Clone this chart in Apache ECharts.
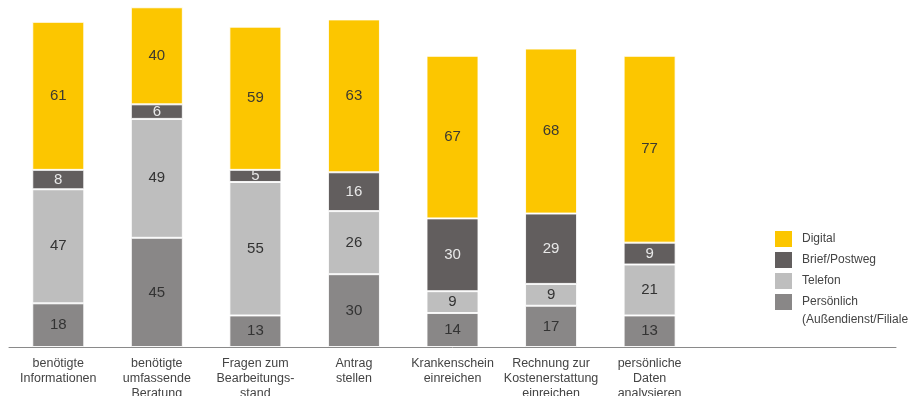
<!DOCTYPE html>
<html>
<head>
<meta charset="utf-8">
<script src="https://cdn.jsdelivr.net/npm/echarts@6/dist/echarts.min.js"></script>
<style>
  html, body { margin: 0; padding: 0; background: #fff; overflow: hidden; }
  #chart { width: 908px; height: 396px; }
</style>
</head>
<body>
<div id="chart"></div>
<script>
// Anliegen und genutzte Kontaktwege (Anzahl Nennungen)
const categories = [
  'benötigte\nInformationen',
  'benötigte\numfassende\nBeratung',
  'Fragen zum\nBearbeitungs-\nstand',
  'Antrag\nstellen',
  'Krankenschein\neinreichen',
  'Rechnung zur\nKostenerstattung\neinreichen',
  'persönliche\nDaten\nanalysieren',
  '', ''
];

const persoenlich = [18, 45, 13, 30, 14, 17, 13];
const telefon     = [47, 49, 55, 26, 9, 9, 21];
const brief       = [8, 6, 5, 16, 30, 29, 9];
const digital     = [61, 40, 59, 63, 67, 68, 77];

const seriesNames = ['Digital', 'Brief/Postweg', 'Telefon', 'Persönlich (Außendienst/Filiale)'];

const colors = {
  digital: '#FCC600',
  brief: '#625E5E',
  telefon: '#BEBEBE',
  persoenlich: '#898787'
};

const font = '"Liberation Sans", "Helvetica Neue", Arial, sans-serif';
const textGray = '#444';

function stackSeries(name, data, color, labelColor) {
  return {
    name: name,
    type: 'bar',
    stack: 'kontakt',
    barWidth: 52,
    data: data,
    itemStyle: { color: color, borderColor: 'rgba(255,255,255,0.85)', borderWidth: 1 },
    label: {
      show: true,
      position: 'inside',
      color: labelColor,
      fontFamily: font,
      fontSize: 15
    }
  };
}

const chart = echarts.init(document.getElementById('chart'), null, { renderer: 'canvas' });

chart.setOption({
  animation: false,
  backgroundColor: '#fff',
  grid: { left: 9, right: 12, top: 0, bottom: 49, containLabel: false, outerBoundsMode: 'none' },
  xAxis: {
    type: 'category',
    data: categories,
    axisLine: { show: true, lineStyle: { color: '#8a8a8a', width: 1 } },
    axisTick: { show: false },
    axisLabel: {
      interval: 0,
      margin: 9,
      color: textGray,
      fontFamily: font,
      fontSize: 12.5,
      lineHeight: 15
    }
  },
  yAxis: {
    type: 'value',
    min: 0,
    max: 143,
    show: false,
    splitLine: { show: false }
  },
  legend: {
    orient: 'vertical',
    left: 775,
    top: 231,
    padding: 0,
    itemWidth: 17,
    itemHeight: 16,
    itemGap: 5,
    icon: 'rect',
    itemStyle: { borderWidth: 0 },
    // long entry: first part next to the swatch, the rest on its own line below
    formatter: function (name) { return name.split(' (')[0]; },
    textStyle: { color: textGray, fontFamily: font, fontSize: 12, lineHeight: 14, padding: [0, 0, 0, 5] },
    data: seriesNames
  },
  graphic: [{
    type: 'text',
    left: 802,
    top: 314,
    style: {
      text: '(Außendienst/Filiale)',
      fill: textGray,
      font: '12px ' + font
    }
  }],
  series: [
    stackSeries(seriesNames[3], persoenlich, colors.persoenlich, '#333'),
    stackSeries(seriesNames[2], telefon, colors.telefon, '#333'),
    stackSeries(seriesNames[1], brief, colors.brief, '#e8e8e8'),
    stackSeries(seriesNames[0], digital, colors.digital, '#3d3a30')
  ]
});
</script>
</body>
</html>
